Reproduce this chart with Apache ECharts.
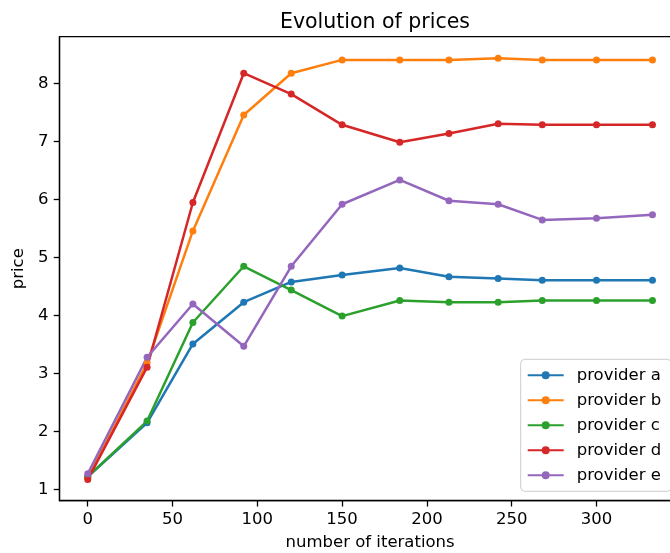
<!DOCTYPE html>
<html>
<head>
<meta charset="utf-8">
<script src="https://cdn.jsdelivr.net/npm/echarts@6/dist/echarts.min.js"></script>
<style>
html,body{margin:0;padding:0;background:#fff;}
#chart{width:670px;height:553px;}
</style>
</head>
<body>
<div id="chart"></div>
<script>
const iterations = [0, 35, 62, 92, 120, 150, 184, 213, 242, 268, 300, 333];
const providerA = [1.22, 2.15, 3.51, 4.23, 4.58, 4.70, 4.82, 4.67, 4.64, 4.61, 4.61, 4.61];
const providerB = [1.20, 3.18, 5.46, 7.46, 8.18, 8.41, 8.41, 8.41, 8.44, 8.41, 8.41, 8.41];
const providerC = [1.22, 2.18, 3.88, 4.85, 4.44, 3.99, 4.26, 4.23, 4.23, 4.26, 4.26, 4.26];
const providerD = [1.17, 3.11, 5.95, 8.18, 7.82, 7.29, 6.99, 7.14, 7.31, 7.29, 7.29, 7.29];
const providerE = [1.27, 3.28, 4.20, 3.47, 4.85, 5.92, 6.34, 5.98, 5.92, 5.65, 5.68, 5.74];
const xTicks = [0, 50, 100, 150, 200, 250, 300];
const yTicks = [1, 2, 3, 4, 5, 6, 7, 8];
const seriesNames = ['provider a', 'provider b', 'provider c', 'provider d', 'provider e'];
const seriesValues = [providerA, providerB, providerC, providerD, providerE];
const colors = ['#1f77b4', '#ff7f0e', '#2ca02c', '#d62728', '#9467bd'];

const FONT = 'DejaVu Sans';
const chart = echarts.init(document.getElementById('chart'), null, {renderer: 'canvas'});

const series = seriesNames.map((name, i) => ({
  name: name,
  type: 'line',
  data: iterations.map((x, j) => [x, seriesValues[i][j]]),
  symbol: 'circle',
  symbolSize: 7,
  showSymbol: true,
  lineStyle: {width: 2.5, color: colors[i]},
  itemStyle: {color: colors[i]},
  emphasis: {disabled: true},
  animation: false
}));

chart.setOption({
  animation: false,
  color: colors,
  textStyle: {fontFamily: FONT},
  title: {
    text: 'Evolution of prices',
    left: 370, top: 7,
    textAlign: 'center',
    textStyle: {fontFamily: FONT, fontSize: 20.5, fontWeight: 'normal', color: '#000'}
  },
  grid: {
    left: 59.5, top: 36.7, width: 621.2, height: 464,
    outerBoundsMode: 'none', containLabel: false,
    show: true, borderColor: '#000', borderWidth: 1.3, backgroundColor: 'transparent'
  },
  legend: {
    orient: 'vertical',
    left: 520.7, top: 359.3,
    padding: [7, 10, 7, 6],
    itemWidth: 36, itemHeight: 10, itemGap: 7,
    backgroundColor: 'rgba(255,255,255,0.8)',
    borderColor: '#cccccc', borderWidth: 1, borderRadius: 4,
    textStyle: {fontFamily: FONT, fontSize: 16.5, color: '#000', lineHeight: 18, padding: [0, 0, 0, 8]},
    data: seriesNames
  },
  xAxis: {
    type: 'value',
    min: -16.65, max: 349.65,
    name: 'number of iterations',
    nameLocation: 'middle', nameGap: 34,
    nameTextStyle: {fontFamily: FONT, fontSize: 16.5, color: '#000'},
    axisLine: {show: true, onZero: false, lineStyle: {color: '#000', width: 1.3}},
    axisTick: {show: true, inside: false, length: 5.8, lineStyle: {color: '#000', width: 1.3}, customValues: xTicks},
    axisLabel: {fontFamily: FONT, fontSize: 16.5, color: '#000', margin: 11, customValues: xTicks},
    splitLine: {show: false}
  },
  yAxis: {
    type: 'value',
    min: 0.806, max: 8.81,
    name: 'price',
    nameLocation: 'middle', nameGap: 28,
    nameTextStyle: {fontFamily: FONT, fontSize: 16.5, color: '#000'},
    axisLine: {show: true, onZero: false, lineStyle: {color: '#000', width: 1.3}},
    axisTick: {show: true, inside: false, length: 5.8, lineStyle: {color: '#000', width: 1.3}, customValues: yTicks},
    axisLabel: {fontFamily: FONT, fontSize: 16.5, color: '#000', margin: 11, customValues: yTicks},
    splitLine: {show: false}
  },
  series: series
});
</script>
</body>
</html>
